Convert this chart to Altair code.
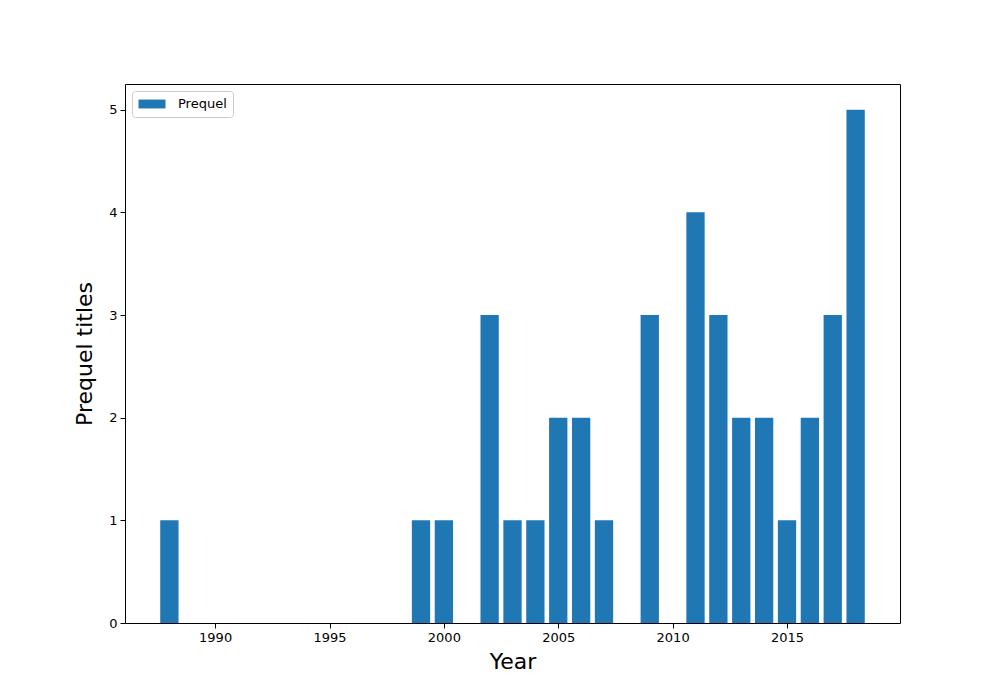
import altair as alt
import pandas as pd

years = [1988, 1999, 2000, 2002, 2003, 2004, 2005, 2006, 2007, 2009, 2011, 2012, 2013, 2014, 2015, 2016, 2017, 2018]
counts = [1, 1, 1, 3, 1, 1, 2, 2, 1, 3, 4, 3, 2, 2, 1, 2, 3, 5]
series = ["Prequel"] * len(years)

df = pd.DataFrame({"year": years, "count": counts, "series": series})

FONT = "DejaVu Sans"

chart = alt.Chart(df).transform_calculate(
    x0="datum.year - 0.4", x1="datum.year + 0.4", base="0"
).mark_bar(cornerRadius=0, strokeWidth=0).encode(
    x=alt.X("x0:Q", title="Year",
            scale=alt.Scale(domain=[1986.06, 2019.94], nice=False, zero=False),
            axis=alt.Axis(values=[1990, 1995, 2000, 2005, 2010, 2015], format="d",
                          grid=False, tickSize=5, tickColor="black", domain=False,
                          labelFontSize=13, labelColor="black", labelPadding=3,
                          titleFontSize=22, titleFontWeight="normal", titleColor="black",
                          titlePadding=7, labelFont=FONT, titleFont=FONT)),
    x2="x1:Q",
    y=alt.Y("count:Q", title="Prequel titles",
            scale=alt.Scale(domain=[0, 5.25], nice=False),
            axis=alt.Axis(values=[0, 1, 2, 3, 4, 5], grid=False, tickSize=5,
                          tickColor="black", domain=False,
                          labelFontSize=13, labelColor="black", labelPadding=3,
                          titleFontSize=22, titleFontWeight="normal", titleColor="black",
                          titlePadding=12, labelFont=FONT, titleFont=FONT)),
    y2="base:Q",
    color=alt.Color("series:N", title=None,
                    scale=alt.Scale(range=["#1f77b4"]),
                    legend=alt.Legend(orient="none", legendX=7, legendY=7,
                                      symbolType="M-2,-0.66L2,-0.66L2,0.66L-2,0.66Z",
                                      symbolSize=182, symbolStrokeWidth=0,
                                      symbolOffset=7,
                                      labelFontSize=13, labelFont=FONT, labelColor="black",
                                      strokeColor="#cccccc", fillColor="white",
                                      cornerRadius=3, padding=6, labelOffset=19)),
).properties(
    width=775, height=539,
    background="white",
    padding={"left": 117, "top": 76, "right": 10, "bottom": 70},
    autosize=alt.AutoSizeParams(type="none"),
).configure_view(stroke="black", strokeWidth=1, strokeOpacity=1)

chart.save("out.html", embed_options={"renderer": "svg", "actions": False})
